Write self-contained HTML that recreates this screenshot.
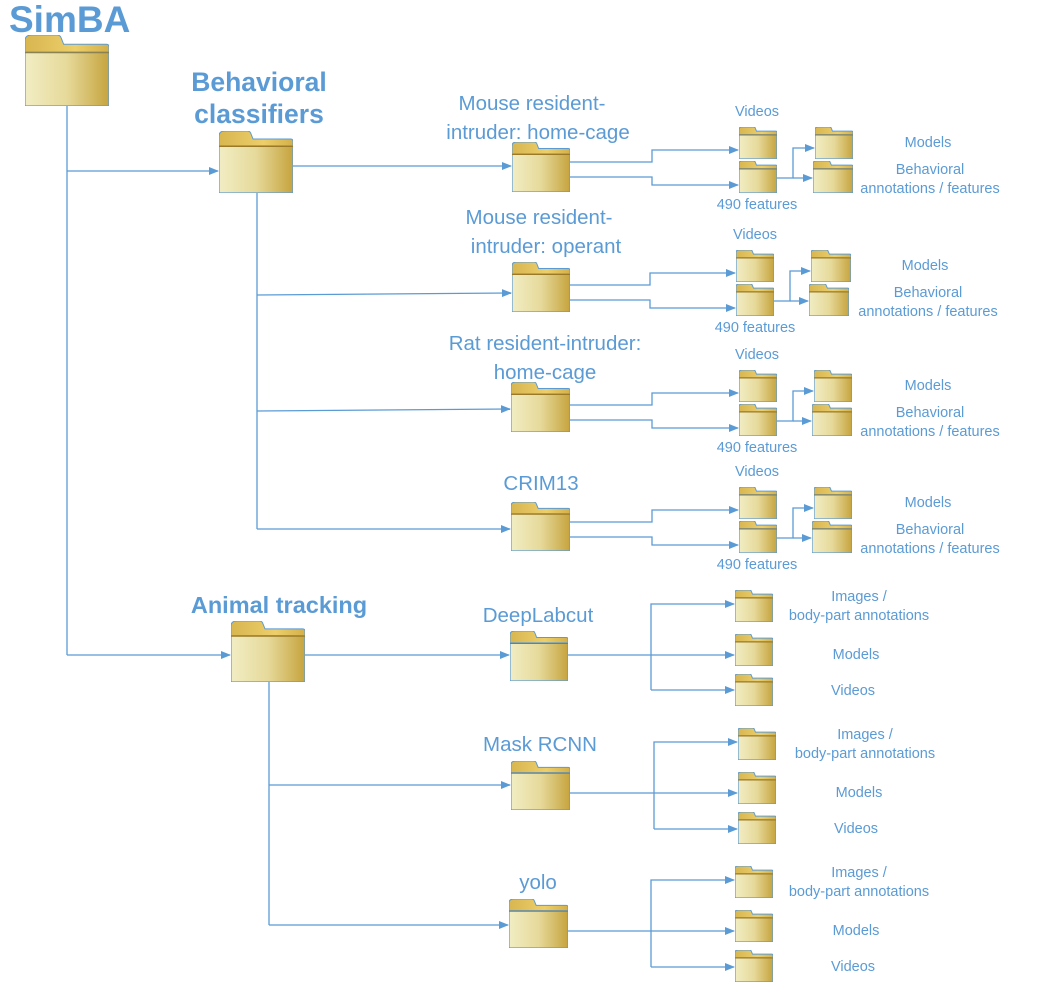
<!DOCTYPE html>
<html><head><meta charset="utf-8"><style>
html,body{margin:0;padding:0;background:#fff;}
svg{display:block;}
text{font-family:"Liberation Sans",sans-serif;fill:#5b9bd5;}
.b{font-weight:bold;}
.n{font-size:20.5px;}
.s{font-size:14.5px;}
</style></head><body>
<svg width="1039" height="1006" viewBox="0 0 1039 1006" xmlns="http://www.w3.org/2000/svg">
<defs>
<linearGradient id="gb" x1="0" y1="0" x2="1" y2="0">
<stop offset="0" stop-color="#f1edc4"/><stop offset="0.5" stop-color="#e6d99a"/><stop offset="1" stop-color="#c6a43e"/></linearGradient>
<linearGradient id="gt" x1="0" y1="0" x2="1" y2="0">
<stop offset="0" stop-color="#d8b650"/><stop offset="0.6" stop-color="#ecce6a"/><stop offset="1" stop-color="#d4b04a"/></linearGradient>
<symbol id="f" viewBox="0 0 100 100" preserveAspectRatio="none">
<path d="M0,28 L0,8 Q0,0 8,0 L38,0 Q42,0 43,4 L46,13 L97,13 Q100,13 100,17 L100,28 Z" fill="url(#gt)" stroke="#5b9bd5" stroke-width="1" vector-effect="non-scaling-stroke"/>
<rect x="0" y="24" width="100" height="76" fill="url(#gb)" stroke="#5b9bd5" stroke-width="1.2" vector-effect="non-scaling-stroke"/>
<line x1="0" y1="25" x2="100" y2="25" stroke="#9a7a28" stroke-width="1" vector-effect="non-scaling-stroke"/>
</symbol>
<marker id="a" markerWidth="10" markerHeight="8" refX="9" refY="4" orient="auto" markerUnits="userSpaceOnUse">
<path d="M0,0 L10,4 L0,8 Z" fill="#5b9bd5"/></marker>
</defs>
<g fill="none" stroke="#5b9bd5" stroke-width="1.3">
<polyline points="67,106 67,655"/>
<polyline points="67,171 218,171" marker-end="url(#a)"/>
<polyline points="67,655 230,655" marker-end="url(#a)"/>
<polyline points="257,193 257,529"/>
<polyline points="293,166 511,166" marker-end="url(#a)"/>
<polyline points="257,295 511,293" marker-end="url(#a)"/>
<polyline points="257,411 510,409" marker-end="url(#a)"/>
<polyline points="257,529 510,529" marker-end="url(#a)"/>
<polyline points="269,682 269,925"/>
<polyline points="305,655 509,655" marker-end="url(#a)"/>
<polyline points="269,785 510,785" marker-end="url(#a)"/>
<polyline points="269,925 508,925" marker-end="url(#a)"/>
<polyline points="570,162 652,162 652,150 738,150" marker-end="url(#a)"/>
<polyline points="570,177 652,177 652,185 738,185" marker-end="url(#a)"/>
<polyline points="777,178 793,178 793,148 814,148" marker-end="url(#a)"/>
<polyline points="793,178 812,178" marker-end="url(#a)"/>
<polyline points="570,285 650,285 650,273 735,273" marker-end="url(#a)"/>
<polyline points="570,300 650,300 650,308 735,308" marker-end="url(#a)"/>
<polyline points="774,301 790,301 790,271 810,271" marker-end="url(#a)"/>
<polyline points="790,301 808,301" marker-end="url(#a)"/>
<polyline points="570,405 652,405 652,393 738,393" marker-end="url(#a)"/>
<polyline points="570,420 652,420 652,428 738,428" marker-end="url(#a)"/>
<polyline points="777,421 793,421 793,391 813,391" marker-end="url(#a)"/>
<polyline points="793,421 811,421" marker-end="url(#a)"/>
<polyline points="570,522 652,522 652,510 738,510" marker-end="url(#a)"/>
<polyline points="570,537 652,537 652,545 738,545" marker-end="url(#a)"/>
<polyline points="777,538 793,538 793,508 813,508" marker-end="url(#a)"/>
<polyline points="793,538 811,538" marker-end="url(#a)"/>
<polyline points="568,655 734,655" marker-end="url(#a)"/>
<polyline points="651,690 651,604 734,604" marker-end="url(#a)"/>
<polyline points="651,690 734,690" marker-end="url(#a)"/>
<polyline points="570,793 737,793" marker-end="url(#a)"/>
<polyline points="654,829 654,742 737,742" marker-end="url(#a)"/>
<polyline points="654,829 737,829" marker-end="url(#a)"/>
<polyline points="568,931 734,931" marker-end="url(#a)"/>
<polyline points="651,967 651,880 734,880" marker-end="url(#a)"/>
<polyline points="651,967 734,967" marker-end="url(#a)"/>
</g>
<use href="#f" x="25" y="35" width="84" height="71"/>
<use href="#f" x="219" y="131" width="74" height="62"/>
<use href="#f" x="231" y="621" width="74" height="61"/>
<use href="#f" x="512" y="142" width="58" height="50"/>
<use href="#f" x="512" y="262" width="58" height="50"/>
<use href="#f" x="511" y="382" width="59" height="50"/>
<use href="#f" x="511" y="502" width="59" height="49"/>
<use href="#f" x="510" y="631" width="58" height="50"/>
<use href="#f" x="511" y="761" width="59" height="49"/>
<use href="#f" x="509" y="899" width="59" height="49"/>
<use href="#f" x="739" y="127" width="38" height="32"/><use href="#f" x="739" y="161" width="38" height="32"/>
<use href="#f" x="815" y="127" width="38" height="32"/><use href="#f" x="813" y="161" width="40" height="32"/>
<use href="#f" x="736" y="250" width="38" height="32"/><use href="#f" x="736" y="284" width="38" height="32"/>
<use href="#f" x="811" y="250" width="40" height="32"/><use href="#f" x="809" y="284" width="40" height="32"/>
<use href="#f" x="739" y="370" width="38" height="32"/><use href="#f" x="739" y="404" width="38" height="32"/>
<use href="#f" x="814" y="370" width="38" height="32"/><use href="#f" x="812" y="404" width="40" height="32"/>
<use href="#f" x="739" y="487" width="38" height="32"/><use href="#f" x="739" y="521" width="38" height="32"/>
<use href="#f" x="814" y="487" width="38" height="32"/><use href="#f" x="812" y="521" width="40" height="32"/>
<use href="#f" x="735" y="590" width="38" height="32"/><use href="#f" x="735" y="634" width="38" height="32"/><use href="#f" x="735" y="674" width="38" height="32"/>
<use href="#f" x="738" y="728" width="38" height="32"/><use href="#f" x="738" y="772" width="38" height="32"/><use href="#f" x="738" y="812" width="38" height="32"/>
<use href="#f" x="735" y="866" width="38" height="32"/><use href="#f" x="735" y="910" width="38" height="32"/><use href="#f" x="735" y="950" width="38" height="32"/>
<text x="9" y="32" class="b" font-size="37">SimBA</text>
<text x="259" y="91" class="b" font-size="26.5" text-anchor="middle">Behavioral</text>
<text x="259" y="123" class="b" font-size="26.5" text-anchor="middle">classifiers</text>
<text x="279" y="613" class="b" font-size="23.5" text-anchor="middle">Animal tracking</text>
<g text-anchor="middle">
<text x="532" y="110" class="n">Mouse resident-</text><text x="538" y="139" class="n">intruder: home-cage</text>
<text x="539" y="224" class="n">Mouse resident-</text><text x="546" y="253" class="n">intruder: operant</text>
<text x="545" y="350" class="n">Rat resident-intruder:</text><text x="545" y="379" class="n">home-cage</text>
<text x="541" y="490" class="n">CRIM13</text>
<text x="538" y="622" class="n">DeepLabcut</text>
<text x="540" y="751" class="n">Mask RCNN</text>
<text x="538" y="889" class="n">yolo</text>
</g>
<g text-anchor="middle">
<text x="757" y="116" class="s">Videos</text><text x="757" y="209" class="s">490 features</text>
<text x="928" y="147" class="s">Models</text><text x="930" y="174" class="s">Behavioral</text><text x="930" y="193" class="s">annotations / features</text>
<text x="755" y="239" class="s">Videos</text><text x="755" y="332" class="s">490 features</text>
<text x="925" y="270" class="s">Models</text><text x="928" y="297" class="s">Behavioral</text><text x="928" y="316" class="s">annotations / features</text>
<text x="757" y="359" class="s">Videos</text><text x="757" y="452" class="s">490 features</text>
<text x="928" y="390" class="s">Models</text><text x="930" y="417" class="s">Behavioral</text><text x="930" y="436" class="s">annotations / features</text>
<text x="757" y="476" class="s">Videos</text><text x="757" y="569" class="s">490 features</text>
<text x="928" y="507" class="s">Models</text><text x="930" y="534" class="s">Behavioral</text><text x="930" y="553" class="s">annotations / features</text>
<text x="859" y="601" class="s">Images /</text><text x="859" y="620" class="s">body-part annotations</text>
<text x="856" y="659" class="s">Models</text><text x="853" y="695" class="s">Videos</text>
<text x="865" y="739" class="s">Images /</text><text x="865" y="758" class="s">body-part annotations</text>
<text x="859" y="797" class="s">Models</text><text x="856" y="833" class="s">Videos</text>
<text x="859" y="877" class="s">Images /</text><text x="859" y="896" class="s">body-part annotations</text>
<text x="856" y="935" class="s">Models</text><text x="853" y="971" class="s">Videos</text>
</g>
</svg>
</body></html>
